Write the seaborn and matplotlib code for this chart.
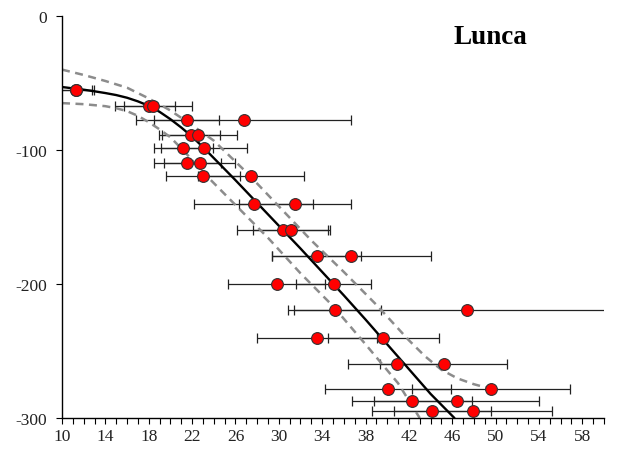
import matplotlib
matplotlib.use("Agg")
import matplotlib.pyplot as plt
from matplotlib.ticker import MultipleLocator
import pandas as pd
import seaborn as sns

# Measured depths and the two estimates per depth with their uncertainties
depth = [-55.5, -67.5, -77.5, -88.5, -98.5, -109.5, -119.5, -140, -159.5, -179,
         -200, -219.5, -240.5, -260, -278, -287, -295]
est_a = [11.26, 18.05, 21.5, 21.86, 21.2, 21.57, 23.0, 27.7, 30.35, 33.5,
         29.8, 35.15, 33.53, 40.88, 40.07, 42.28, 44.1]
err_a = [1.48, 2.35, 3.0, 2.67, 2.7, 3.06, 3.4, 5.5, 4.2, 4.1,
         4.5, 4.3, 5.5, 4.5, 5.8, 5.55, 5.5]
est_b = [11.26, 18.42, 26.75, 22.56, 23.08, 22.7, 27.4, 31.5, 31.15, 36.7,
         35.06, 47.4, 39.65, 45.2, 49.6, 46.4, 47.9]
err_b = [1.72, 3.55, 9.95, 3.62, 3.95, 3.3, 4.9, 5.2, 3.55, 7.3,
         3.45, 16.0, 5.1, 5.85, 7.3, 7.6, 7.3]

# Fitted profile and its envelope (value, depth)
fit_x = [10, 11, 12, 13, 14, 15, 16, 17, 18, 19, 20, 21, 22, 23, 24, 26, 28, 30,
         32, 34, 36, 38, 40, 42, 44, 46.2]
fit_y = [-53, -54, -55, -56.2, -57.5, -59, -61, -63.7, -67, -71.5, -77, -83.2,
         -90, -97.8, -106, -122.5, -139.5, -156.5, -173.5, -191, -208.5, -226.5,
         -245, -263.5, -282, -300]
upper_x = [10, 12, 14, 16, 18, 20, 22, 24, 27, 30, 33, 36, 39, 42, 43.5, 45,
           46.5, 48, 49, 49.6]
upper_y = [-40, -44, -48.5, -53.5, -61.5, -70.5, -81.5, -93, -116.5, -142, -167.5,
           -191, -215.5, -242, -254, -264, -270.5, -274.8, -277, -278]
lower_x = [10, 12, 14, 15, 16, 17, 18, 19, 20, 21.5, 23, 26, 29, 32, 35, 38, 41, 43]
lower_y = [-65, -65.8, -67.3, -68.8, -71, -74.5, -79.2, -84.6, -90.5, -103,
           -116.5, -141, -165.5, -192, -216.5, -245, -274, -300]

x_ticks = list(range(10, 59, 4))
y_ticks = [0, -100, -200, -300]

sns.set_theme(style="white")
plt.rcParams["font.family"] = ["Liberation Serif", "DejaVu Serif"]
plt.rcParams["axes.unicode_minus"] = False

fig = plt.figure(figsize=(6.22, 4.56), dpi=100)
ax = fig.add_axes([62 / 622, 1 - 419 / 456, (604 - 62) / 622, (419 - 17) / 456])

pts = pd.DataFrame({
    "x": est_a + est_b,
    "depth": depth + depth,
    "err": err_a + err_b,
})

# Horizontal uncertainty bars
ax.errorbar(pts["x"], pts["depth"], xerr=pts["err"], fmt="none",
            ecolor="#222222", elinewidth=0.9, capsize=3.3, capthick=0.9, zorder=1)

band_kw = dict(color="#8c8c8c", linewidth=1.8, dashes=(3.2, 2.2), sort=False,
               estimator=None, legend=False, zorder=2)
sns.lineplot(x=upper_x, y=upper_y, ax=ax, **band_kw)
sns.lineplot(x=lower_x, y=lower_y, ax=ax, **band_kw)
sns.lineplot(x=fit_x, y=fit_y, ax=ax, color="black", linewidth=1.7, sort=False,
             estimator=None, legend=False, zorder=3)

sns.scatterplot(data=pts, x="x", y="depth", ax=ax, s=72, color="#ff0000",
                edgecolor="#333333", linewidth=0.8, zorder=4, legend=False)

ax.set_xlim(10, 60)
ax.set_ylim(-300, 0)
ax.set_xticks(x_ticks)
ax.xaxis.set_minor_locator(MultipleLocator(1))
ax.set_yticks(y_ticks)
ax.set_xlabel("")
ax.set_ylabel("")

for side in ("top", "right"):
    ax.spines[side].set_visible(False)
for side in ("left", "bottom"):
    ax.spines[side].set_color("black")
    ax.spines[side].set_linewidth(1.0)

ax.tick_params(axis="both", which="both", direction="out", color="black",
               width=0.8, labelsize=12.5, labelcolor="#222222")
ax.tick_params(axis="x", which="both", length=4.5, pad=2.5, bottom=True)
ax.tick_params(axis="y", which="major", length=4.5, pad=6, left=True)

fig.text(0.789, 0.918, "Lunca", fontsize=19.5, fontweight="bold",
         ha="center", va="center", color="black")

fig.savefig("out.png", dpi=100)
